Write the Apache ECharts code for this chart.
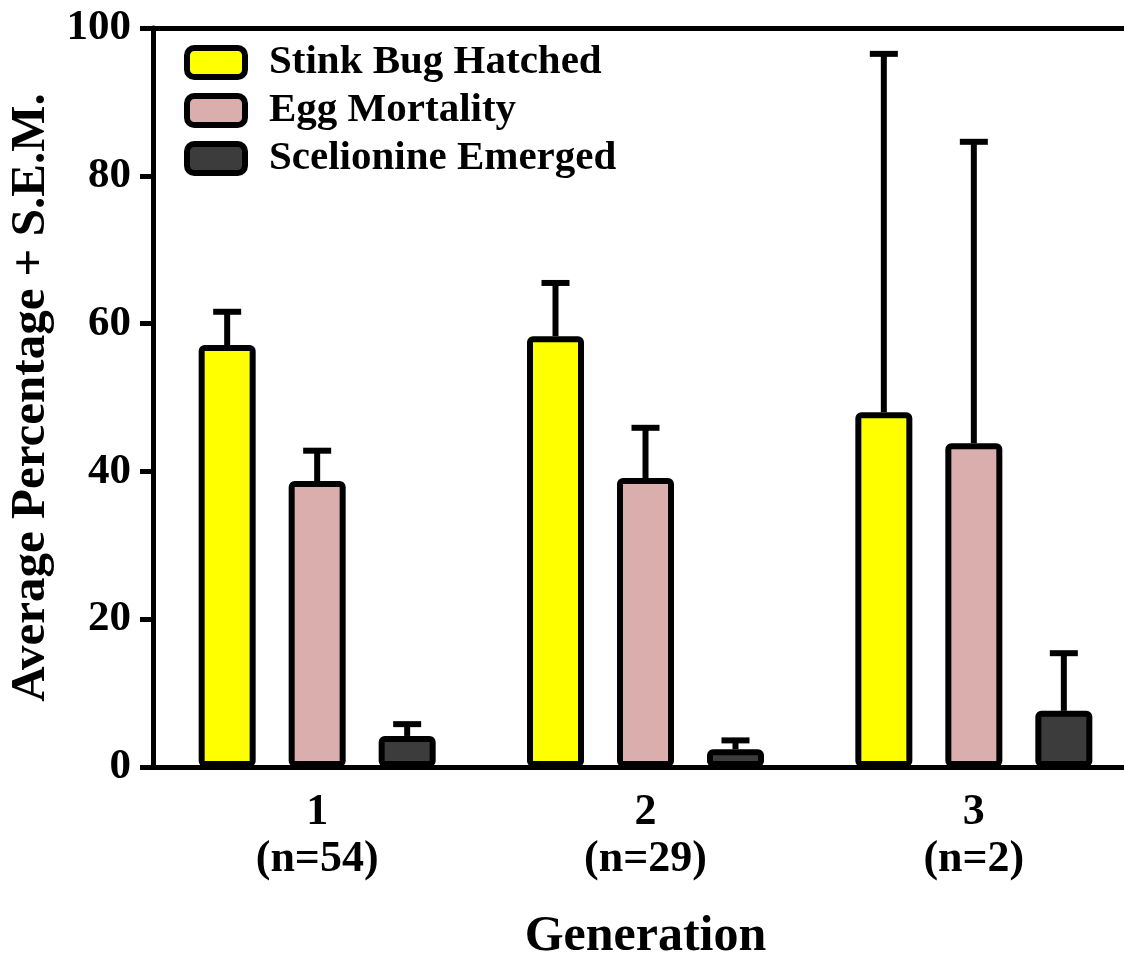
<!DOCTYPE html>
<html>
<head>
<meta charset="utf-8">
<script src="https://cdn.jsdelivr.net/npm/echarts@6/dist/echarts.min.js"></script>
<style>
  html, body { margin: 0; padding: 0; background: #ffffff; }
  #chart { width: 1124px; height: 955px; }
</style>
</head>
<body>
<div id="chart"></div>
<script>
// Generations with sample sizes
const generations = ['1\n(n=54)', '2\n(n=29)', '3\n(n=2)'];

// Average percentage per generation
const hatchedMean = [57.1, 58.3, 48.0];
const mortalityMean = [38.7, 39.1, 43.8];
const emergedMean = [4.2, 2.4, 7.6];

// Standard error of the mean (drawn upward only)
const hatchedSem = [4.5, 7.2, 48.5];
const mortalitySem = [4.1, 6.8, 40.8];
const emergedSem = [1.6, 1.2, 7.8];

const seriesNames = ['Stink Bug Hatched', 'Egg Mortality', 'Scelionine Emerged'];
const yTicks = [0, 20, 40, 60, 80, 100];

const FONT = '"Liberation Serif", "Times New Roman", serif';
const colors = ['#FFFF00', '#D9AEAD', '#3C3C3C'];
const BAR_W = 57;
const BAR_GAP = 33;          // px between neighbouring bars in a group
const STEP = BAR_W + BAR_GAP; // centre-to-centre distance of bars in a group

const chart = echarts.init(document.getElementById('chart'), null, { renderer: 'canvas' });

function barSeries(name, data, color) {
  return {
    name: name,
    type: 'bar',
    data: data,
    barWidth: BAR_W,
    barGap: (BAR_GAP / BAR_W * 100).toFixed(2) + '%',
    itemStyle: {
      color: color,
      borderColor: '#000',
      borderWidth: 6,
      borderRadius: 3
    },
    emphasis: { disabled: true },
    z: 3
  };
}

// Upward error bar: stem from the mean to mean + SEM, with a cap
function errorSeries(means, sems, slot) {
  return {
    type: 'custom',
    name: seriesNames[slot] + ' SEM',
    data: means.map((m, i) => [i, m, m + sems[i]]),
    z: 2,
    silent: true,
    renderItem: function (params, api) {
      const cat = api.value(0);
      const lo = api.coord([cat, api.value(1)]);
      const hi = api.coord([cat, api.value(2)]);
      const x = lo[0] + (slot - 1) * STEP;
      const capHalf = 14;
      return {
        type: 'group',
        children: [
          { type: 'line', shape: { x1: x, y1: lo[1], x2: x, y2: hi[1] },
            style: { stroke: '#000', lineWidth: 6 } },
          { type: 'line', shape: { x1: x - capHalf, y1: hi[1], x2: x + capHalf, y2: hi[1] },
            style: { stroke: '#000', lineWidth: 6 } }
        ]
      };
    }
  };
}

const option = {
  backgroundColor: '#ffffff',
  animation: false,
  grid: {
    left: 153, top: 28, width: 985, height: 739,
    containLabel: false,
    outerBoundsMode: 'none'
  },
  legend: {
    orient: 'vertical',
    left: 184,
    top: 42,
    padding: 0,
    itemWidth: 58,
    itemHeight: 29,
    itemGap: 7,
    icon: 'roundRect',
    selectedMode: false,
    data: seriesNames,
    itemStyle: { borderColor: '#000', borderWidth: 6 },
    textStyle: {
      fontFamily: FONT,
      fontWeight: 'bold',
      fontSize: 41,
      color: '#000',
      padding: [0, 0, 0, 19]
    }
  },
  xAxis: [
    {
      type: 'category',
      data: generations,
      position: 'bottom',
      axisLine: { lineStyle: { color: '#000', width: 5 } },
      axisTick: { alignWithLabel: true, length: 13, lineStyle: { color: '#000', width: 5 } },
      axisLabel: {
        fontFamily: FONT, fontWeight: 'bold', fontSize: 44, color: '#000',
        lineHeight: 47, margin: 22
      },
      name: 'Generation',
      nameLocation: 'middle',
      nameGap: 145,
      nameTextStyle: { fontFamily: FONT, fontWeight: 'bold', fontSize: 50, color: '#000' }
    },
    {
      // top frame line
      type: 'category',
      data: generations,
      position: 'top',
      axisLine: { lineStyle: { color: '#000', width: 5 } },
      axisTick: { show: false },
      axisLabel: { show: false }
    }
  ],
  yAxis: {
    type: 'value',
    min: yTicks[0],
    max: yTicks[yTicks.length - 1],
    interval: 20,
    splitLine: { show: false },
    axisLine: { show: true, lineStyle: { color: '#000', width: 5 } },
    axisTick: { show: true, length: 13, lineStyle: { color: '#000', width: 5 } },
    axisLabel: {
      fontFamily: FONT, fontWeight: 'bold', fontSize: 43, color: '#000', margin: 22
    },
    name: 'Average Percentage + S.E.M.',
    nameLocation: 'middle',
    nameRotate: 90,
    nameGap: 96,
    nameTextStyle: { fontFamily: FONT, fontWeight: 'bold', fontSize: 49, color: '#000' }
  },
  series: [
    barSeries(seriesNames[0], hatchedMean, colors[0]),
    barSeries(seriesNames[1], mortalityMean, colors[1]),
    barSeries(seriesNames[2], emergedMean, colors[2]),
    errorSeries(hatchedMean, hatchedSem, 0),
    errorSeries(mortalityMean, mortalitySem, 1),
    errorSeries(emergedMean, emergedSem, 2)
  ]
};

chart.setOption(option);
</script>
</body>
</html>
